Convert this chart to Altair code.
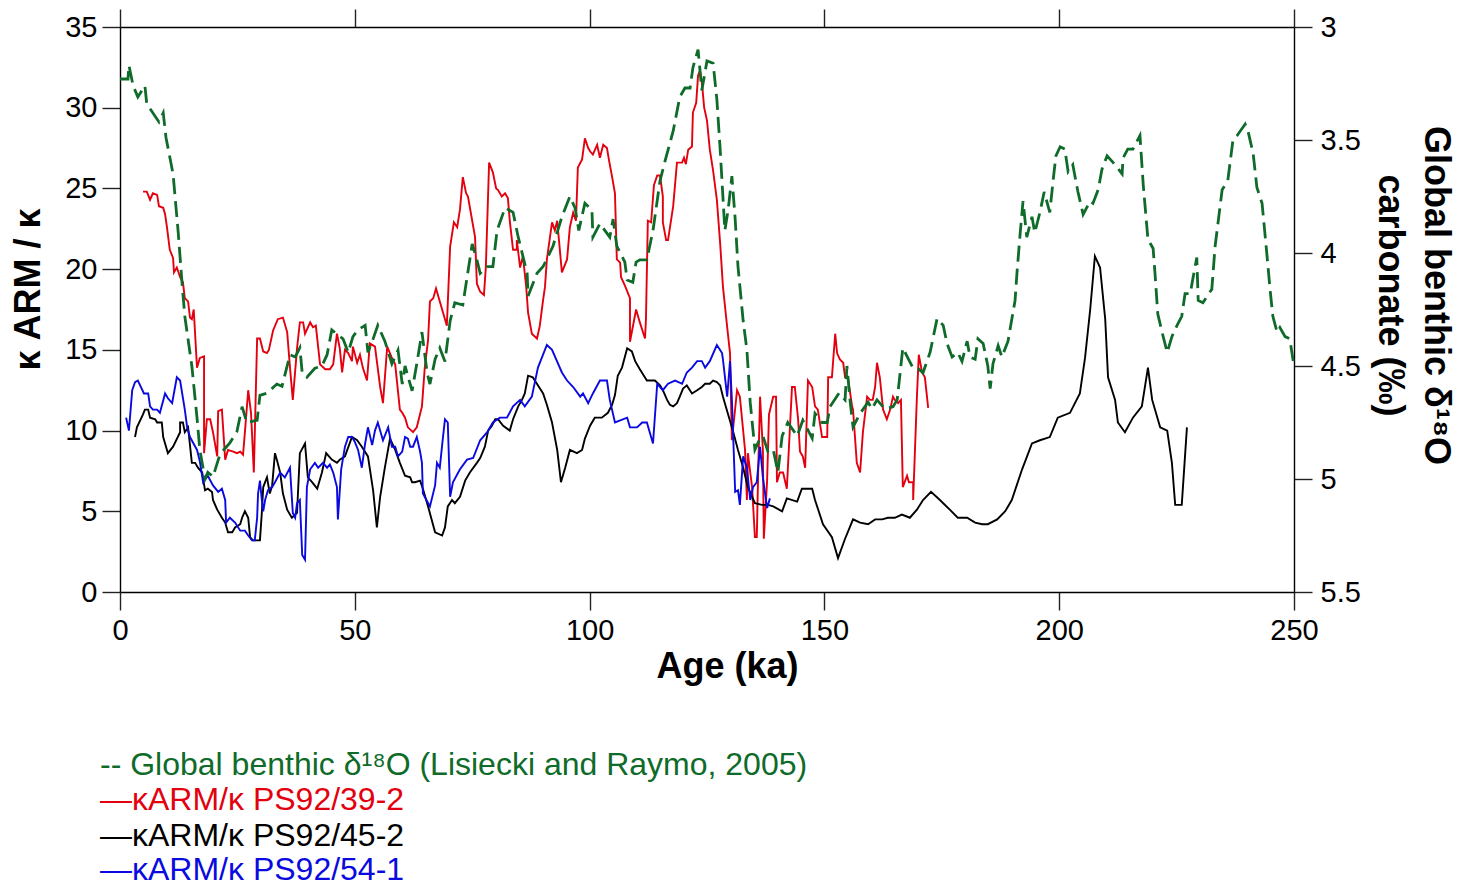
import altair as alt
import pandas as pd

FONT = "Liberation Sans, Arial, Helvetica, sans-serif"

GREEN = "#0f6b2a"
RED = "#e3000f"
BLACK = "#000000"
BLUE = "#0a0ae0"

# Global benthic d18O stack (Lisiecki and Raymo, 2005), permil, right axis
lr04_age = [0, 1.7, 1.9, 2.8, 3.8, 5.3, 5.7, 8.3, 9.2, 9.8, 11.3, 12.4, 13.2, 13.8,
            15.3, 16.4, 17.0, 18.1, 18.7, 19.8, 20.7, 21.3, 23.4, 24.9, 26.0, 27.0,
            29.2, 29.8, 31.3, 33.4, 34.5, 36.2, 37.3, 38.3, 38.8, 39.8, 41.5, 43.0,
            44.1, 45.1, 46.2, 47.5, 48.6, 49.6, 50.7, 52.2, 52.8, 53.9, 54.9, 56.4,
            57.9, 59.2, 60.1, 60.7, 62.2, 63.2, 64.3, 65.4, 66.0, 67.1, 68.1, 69.2,
            70.3, 71.3, 73.0, 75.0, 76.0, 76.7, 78.2, 79.4, 80.3, 82.0, 83.7, 84.8,
            86.7, 86.9, 88.8, 90.1, 92.2, 94.1, 95.8, 96.9, 97.7, 99.0, 100.5, 100.7,
            102.2, 104.3, 105.0, 105.8, 107.5, 108.0, 109.2, 109.9, 110.7, 112.2,
            113.5, 115.0, 116.1, 117.8, 119.2, 120.3, 121.4, 122.0, 123.1, 123.9,
            125.0, 126.3, 127.1, 127.8, 128.8, 129.5, 130.3, 131.0, 131.6, 132.7,
            133.5, 134.2, 135.2, 136.3, 136.9, 138.0, 139.1, 140.1, 141.0, 142.2,
            144.2, 145.4, 147.4, 148.0, 149.5, 150.6, 151.2, 153.1, 154.4, 154.8,
            155.5, 156.1, 157.6, 159.3, 160.1, 161.2, 162.9, 164.6, 165.5, 166.7,
            168.9, 169.9, 171.0, 172.5, 174.0, 175.3, 176.1, 177.2, 178.4, 179.3,
            180.4, 181.0, 182.1, 182.7, 183.8, 184.8, 185.3, 185.9, 187.0, 187.8,
            189.1, 190.6, 191.0, 191.7, 192.3, 193.1, 194.2, 194.8, 195.9, 196.8,
            198.0, 198.7, 199.3, 200.2, 201.2, 201.9, 202.9, 204.0, 205.1, 206.6,
            207.2, 208.3, 209.1, 210.2, 211.5, 212.3, 213.4, 213.6, 214.6, 215.7,
            217.2, 217.9, 218.9, 220.0, 220.4, 221.0, 221.9, 223.0, 224.0, 225.1,
            226.1, 226.8, 227.9, 228.5, 229.3, 229.6, 230.6, 232.5, 233.2, 234.7,
            235.9, 237.0, 237.9, 238.9, 239.6, 240.2, 241.3, 242.1, 243.2, 244.2,
            244.9, 245.5, 246.4, 247.0, 248.1, 249.1, 250.0]
lr04_d18o = [3.23, 3.23, 3.17, 3.26, 3.31, 3.26, 3.34, 3.42, 3.38, 3.49, 3.65, 3.91, 4.13, 4.28,
             4.50, 4.73, 4.87, 5.00, 4.97, 4.99, 4.93, 4.89, 4.84, 4.79, 4.68, 4.75,
             4.74, 4.63, 4.62, 4.58, 4.59, 4.45, 4.46, 4.42, 4.53, 4.55, 4.51, 4.50,
             4.45, 4.34, 4.36, 4.38, 4.44, 4.37, 4.34, 4.32, 4.44, 4.38, 4.32, 4.39,
             4.49, 4.43, 4.58, 4.50, 4.61, 4.49, 4.35, 4.53, 4.58, 4.47, 4.42, 4.48,
             4.30, 4.22, 4.23, 3.96, 4.03, 4.09, 4.06, 4.06, 3.90, 3.80, 3.82, 3.93,
             4.09, 4.19, 4.09, 4.06, 3.97, 3.84, 3.75, 3.80, 3.90, 3.78, 3.81, 3.93,
             3.87, 3.93, 3.85, 3.97, 4.04, 4.12, 4.13, 4.04, 4.03, 4.03,
             3.90, 3.68, 3.59, 3.46, 3.31, 3.27, 3.27, 3.18, 3.10, 3.28,
             3.15, 3.16, 3.32, 3.54, 3.90, 3.81, 3.66, 3.85, 4.06, 4.30,
             4.43, 4.66, 4.87, 4.82, 4.81, 4.88, 4.87, 4.97, 4.81, 4.75,
             4.81, 4.74, 4.82, 4.71, 4.75, 4.75, 4.68, 4.62, 4.65, 4.50,
             4.66, 4.77, 4.71, 4.66, 4.69, 4.65, 4.69, 4.68, 4.65, 4.42,
             4.51, 4.51, 4.53, 4.44, 4.29, 4.32, 4.40, 4.46, 4.44, 4.48,
             4.39, 4.46, 4.47, 4.38, 4.40, 4.50, 4.60, 4.49, 4.41, 4.46,
             4.39, 4.21, 4.09, 3.91, 3.77, 3.93, 3.84, 3.91, 3.82, 3.73,
             3.82, 3.68, 3.57, 3.53, 3.54, 3.64, 3.61, 3.73, 3.83, 3.77,
             3.78, 3.72, 3.63, 3.57, 3.60, 3.62, 3.65, 3.58, 3.54, 3.54,
             3.48, 3.70, 3.94, 3.98, 4.09, 4.27, 4.35, 4.44, 4.37, 4.32,
             4.28, 4.18, 4.18, 4.11, 4.02, 4.21, 4.22, 4.16, 3.97, 3.72,
             3.68, 3.50, 3.48, 3.45, 3.43, 3.46, 3.56, 3.71, 3.78, 4.00,
             4.16, 4.28, 4.35, 4.33, 4.37, 4.38, 4.50]

# kARM/k, core PS92/39-2
ps39_age = [4.9, 5.7, 6.4, 7.0, 7.9, 8.3, 9.2, 9.6, 10.0, 10.6, 11.3, 11.5, 12.1, 12.8,
            13.4, 13.8, 14.5, 14.9, 15.3, 15.7, 16.4, 17.0, 17.9, 17.9, 18.5, 19.2,
            19.8, 20.7, 20.9, 21.7, 22.4, 23.0, 24.1, 24.9, 25.6, 26.2, 26.6, 27.3,
            27.9, 28.5, 29.2, 29.8, 30.5, 31.3, 31.7, 32.6, 33.6, 34.7, 35.6, 36.2,
            36.8, 37.7, 38.3, 39.0, 39.4, 40.5, 41.1, 41.7, 42.6, 43.7, 44.7, 45.4,
            46.2, 46.8, 47.3, 47.9, 48.6, 49.4, 49.6, 50.5, 51.1, 51.7, 52.6, 53.2,
            54.3, 55.4, 56.0, 56.9, 57.9, 58.6, 59.6, 60.1, 60.7, 61.3, 62.4, 63.2,
            64.3, 64.9, 65.6, 66.0, 66.7, 67.3, 67.9, 68.8, 69.6, 70.3, 71.1, 71.8,
            72.4, 73.0, 73.7, 74.1, 75.0, 75.6, 76.0, 76.7, 77.5, 77.9, 78.6, 79.4,
            80.1, 80.5, 81.3, 82.0, 82.6, 83.0, 83.7, 84.5, 84.5, 85.2, 85.8, 86.5,
            86.9, 87.7, 88.8, 89.4, 90.1, 90.5, 90.9, 92.0, 92.6, 93.1, 94.1, 95.2,
            95.8, 96.5, 97.1, 97.5, 98.4, 99.0, 99.7, 100.1, 100.7, 101.6, 102.2,
            102.9, 103.7, 104.1, 104.8, 105.4, 105.8, 106.5, 106.7, 107.5, 108.6,
            108.6, 109.9, 110.7, 111.8, 112.0, 112.4, 113.1, 113.7, 114.4, 115.0,
            115.6, 115.6, 116.3, 116.7, 117.8, 118.6, 119.7, 120.1, 120.5, 121.0,
            121.8, 122.0, 122.7, 123.1, 123.5, 123.9, 124.4, 125.0, 125.6, 126.3,
            127.1, 127.8, 128.4, 129.3, 129.9, 130.3, 131.4, 132.0, 133.1, 133.5,
            133.7, 134.6, 135.2, 135.6, 135.9, 136.3, 136.9, 137.1, 137.8, 138.2,
            139.1, 139.7, 139.9, 140.5, 141.2, 142.0, 143.1, 143.7, 144.4, 144.8,
            145.4, 145.9, 146.5, 147.4, 148.0, 148.6, 149.5, 150.6, 150.8, 151.6,
            152.3, 152.7, 153.3, 154.0, 154.4, 155.0, 155.9, 156.1, 156.9, 157.6,
            158.2, 159.1, 159.7, 160.3, 160.8, 161.2, 161.8, 162.5, 163.3, 164.0,
            164.6, 165.0, 165.7, 166.3, 166.5, 166.7, 167.6, 168.0, 168.9, 168.9,
            169.7, 170.1, 170.8, 171.4, 172.1]
ps39_val = [24.8, 24.8, 24.3, 24.7, 24.6, 23.9, 23.8, 23.4, 22.6, 21.2, 20.7, 19.8, 20.1, 19.5,
            19.2, 18.2, 18.0, 17.0, 16.9, 17.5, 13.9, 14.5, 14.6, 8.6, 10.7, 10.7,
            9.9, 8.4, 11.2, 11.3, 8.2, 8.8, 8.7, 8.6, 8.7, 8.5, 9.9, 12.5,
            11.1, 7.4, 15.7, 15.7, 14.9, 14.8, 15.0, 16.2, 16.9, 17.0, 16.1, 13.9,
            11.9, 15.1, 16.7, 16.7, 16.0, 16.7, 16.4, 16.5, 14.1, 13.8, 13.8, 14.1,
            16.0, 15.1, 13.6, 15.0, 14.8, 14.3, 15.2, 14.2, 14.7, 13.9, 13.1, 15.4,
            15.2, 12.7, 11.7, 15.2, 14.5, 14.1, 11.3, 11.1, 10.8, 10.2, 9.9, 10.2,
            11.5, 13.9, 15.6, 18.0, 18.2, 18.8, 18.2, 17.3, 16.5, 21.4, 22.9, 22.6,
            23.7, 25.7, 24.7, 24.5, 23.0, 22.0, 19.1, 18.6, 18.4, 20.1, 26.6, 26.0,
            25.0, 24.9, 24.5, 24.7, 24.4, 23.0, 21.2, 21.2, 21.8, 20.1, 20.8, 18.9,
            17.3, 16.0, 15.7, 16.5, 18.1, 18.9, 20.6, 22.9, 22.4, 23.0, 19.8, 20.6,
            22.6, 23.5, 23.0, 26.3, 26.8, 28.1, 27.5, 27.3, 27.1, 27.7, 26.9,
            27.7, 27.5, 26.8, 25.7, 24.7, 20.6, 20.4, 19.5, 19.0, 18.2,
            15.5, 17.5, 16.7, 15.7, 16.9, 23.0, 22.9, 25.2, 25.8, 25.8,
            24.5, 22.9, 21.8, 21.8, 23.9, 26.6, 26.6, 26.9, 26.5, 27.4,
            27.6, 29.7, 30.3, 32.0, 32.3, 31.6, 30.0, 29.2, 27.4, 26.1,
            24.3, 21.6, 18.9, 16.4, 14.8, 9.4, 12.5, 12.1, 8.8, 5.7,
            8.6, 6.5, 3.4, 3.4, 7.4, 12.1, 8.8, 3.3, 6.9, 11.0,
            12.1, 12.1, 6.8, 7.4, 7.4, 6.4, 12.7, 12.7, 10.7, 8.7,
            8.4, 7.7, 13.1, 12.7, 11.5, 11.3, 9.6, 9.6, 13.3, 13.3,
            16.0, 14.8, 14.4, 14.2, 13.3, 13.3, 11.5, 11.3, 8.0, 7.4,
            9.9, 12.1, 11.9, 11.9, 12.7, 14.2, 13.3, 11.3, 10.7, 11.3,
            12.1, 11.9, 11.7, 11.9, 9.2, 6.5, 7.2, 6.8, 6.8, 5.7,
            12.1, 14.7, 13.6, 13.3, 11.4]

# kARM/k, core PS92/45-2
ps45_age = [3.2, 3.6, 4.9, 5.3, 6.0, 6.4, 7.5, 7.9, 8.9, 9.2, 10.0, 10.2, 11.3, 12.8,
            12.8, 13.4, 13.8, 14.5, 15.3, 16.0, 16.6, 17.5, 18.1, 18.7, 19.6, 19.8,
            20.7, 21.7, 22.4, 23.0, 23.9, 24.5, 25.6, 26.0, 26.6, 27.3, 27.7, 28.3,
            29.2, 29.8, 30.2, 30.5, 31.3, 31.9, 32.4, 33.0, 33.4, 34.1, 34.7, 35.6,
            36.6, 37.7, 38.3, 39.4, 40.0, 40.9, 42.0, 43.0, 43.9, 45.1, 46.2, 46.8,
            47.9, 49.4, 50.5, 51.5, 52.8, 53.9, 54.7, 55.4, 56.4, 57.5, 58.6, 59.6,
            60.7, 61.8, 62.2, 62.8, 63.9, 64.5, 65.6, 67.1, 68.6, 69.2, 69.8, 70.7,
            71.3, 72.4, 73.5, 74.5, 76.0, 76.7, 77.7, 78.4, 79.2, 79.9, 80.5, 81.6,
            83.0, 83.7, 84.8, 85.6, 86.2, 86.9, 87.9, 90.1, 90.9, 92.0, 93.1, 93.9,
            94.8, 95.8, 97.3, 98.4, 99.0, 100.1, 101.1, 102.6, 103.9, 104.8, 105.4,
            106.0, 106.9, 108.0, 109.0, 109.7, 110.7, 112.2, 113.9, 115.0, 115.6,
            116.5, 117.1, 117.8, 118.6, 119.2, 119.9, 120.7, 121.8, 122.9, 123.9,
            124.6, 125.6, 126.3, 127.1, 127.8, 128.4, 129.5, 130.5, 131.6, 132.7,
            133.7, 135.2, 136.7, 138.0, 139.1, 141.0, 142.0, 144.2, 145.2, 147.4,
            148.0, 149.7, 151.6, 152.9, 154.4, 156.1, 157.6, 159.3, 160.8, 162.3,
            163.5, 165.0, 166.5, 168.2, 169.7, 171.0, 172.7, 174.6, 176.7, 178.4,
            180.4, 182.1, 183.6, 184.8, 186.8, 188.5, 189.9, 192.1, 194.2, 195.9,
            198.0, 199.7, 202.3, 204.4, 205.5, 206.6, 207.6, 208.7, 209.8, 210.4,
            211.9, 212.5, 214.0, 215.7, 217.6, 218.9, 219.8, 221.5, 223.0, 224.0,
            224.7, 226.1, 227.2]
ps45_val = [9.6, 10.2, 11.0, 11.3, 11.3, 10.8, 10.7, 10.5, 10.5, 9.6, 8.8, 8.6, 9.0, 9.9,
            10.5, 10.5, 9.9, 10.2, 8.0, 8.0, 7.7, 7.4, 6.3, 6.4, 6.2, 5.7,
            5.1, 4.6, 4.3, 3.7, 3.7, 4.0, 4.2, 4.6, 5.0, 4.6, 3.4, 3.2,
            3.2, 3.2, 4.9, 6.5, 7.1, 6.1, 6.6, 8.6, 8.2, 7.4, 6.1, 5.1,
            4.6, 4.9, 8.6, 9.2, 7.1, 6.8, 6.4, 7.4, 8.6, 8.2, 8.0, 8.2,
            8.4, 9.6, 9.4, 9.0, 8.4, 6.3, 4.0, 5.9, 7.7, 9.5, 8.8, 8.0,
            7.2, 7.1, 6.8, 6.8, 6.9, 6.4, 5.3, 3.7, 3.5, 4.0, 5.3, 5.7,
            5.5, 5.9, 6.9, 7.4, 8.0, 8.3, 9.0, 10.0, 10.3, 10.7, 10.7, 10.3,
            10.0, 10.7, 11.5, 11.9, 12.3, 13.4, 13.3, 12.3, 11.6, 10.5, 8.8, 6.8,
            7.7, 8.8, 8.6, 8.8, 9.5, 10.3, 10.8, 10.8, 11.1, 11.6, 12.2,
            13.4, 13.9, 15.1, 14.9, 14.3, 13.8, 13.1, 13.1, 12.8, 12.5,
            11.9, 11.6, 11.5, 11.7, 12.1, 12.6, 12.8, 12.3, 12.5, 12.7,
            12.9, 12.9, 13.1, 13.0, 12.8, 12.1, 11.0, 10.0, 8.8, 7.7,
            6.5, 5.5, 5.4, 5.4, 5.3, 5.0, 5.8, 5.6, 6.4, 6.4,
            5.7, 4.2, 3.4, 2.1, 3.3, 4.5, 4.3, 4.2, 4.5, 4.5,
            4.6, 4.6, 4.8, 4.6, 5.1, 5.7, 6.2, 5.7, 5.1, 4.6,
            4.6, 4.3, 4.2, 4.2, 4.5, 5.0, 5.7, 7.6, 9.2, 9.4,
            9.6, 10.8, 11.1, 12.3, 14.5, 17.5, 20.8, 20.1, 16.9, 13.3,
            11.9, 10.5, 9.9, 10.8, 11.5, 13.9, 11.9, 10.2, 10.0, 8.0,
            5.4, 5.4, 10.2]

# kARM/k, core PS92/54-1
ps54_age = [1.3, 1.9, 2.6, 3.2, 3.8, 5.1, 6.0, 6.4, 7.0, 7.9, 8.5, 9.6, 10.2, 11.1,
            12.1, 12.8, 13.8, 14.3, 14.9, 16.4, 17.0, 17.7, 18.7, 19.8, 20.9, 21.7,
            22.4, 22.6, 23.4, 24.5, 25.6, 26.6, 27.3, 28.1, 28.7, 29.2, 29.4, 29.8,
            30.2, 30.5, 30.9, 31.5, 32.4, 33.0, 34.1, 35.1, 36.2, 36.8, 37.3, 37.7,
            38.3, 38.8, 39.4, 39.8, 40.5, 41.5, 42.2, 43.2, 44.1, 44.7, 45.4, 46.2,
            46.4, 47.1, 47.9, 48.6, 49.4, 50.0, 50.7, 51.5, 52.2, 52.8, 53.7, 54.3,
            54.9, 56.0, 57.1, 57.9, 58.6, 59.2, 60.1, 60.7, 61.3, 61.8, 62.4, 63.2,
            63.9, 64.3, 64.5, 66.0, 67.1, 67.5, 68.1, 68.6, 69.2, 69.8, 70.3, 70.9,
            72.4, 73.9, 75.2, 76.7, 78.2, 79.4, 80.9, 82.4, 83.7, 85.2, 86.2, 87.7,
            89.0, 90.9, 92.0, 94.1, 95.2, 96.5, 98.0, 98.6, 99.7, 100.7, 102.2,
            103.7, 104.3, 105.4, 108.0, 108.6, 110.1, 111.2, 112.2, 113.5, 114.4,
            115.6, 116.7, 118.2, 119.7, 120.7, 121.8, 122.9, 123.9, 124.6, 125.6,
            127.1, 128.2, 128.4, 129.3, 129.9, 130.3, 131.0, 131.6, 132.0, 132.7,
            133.5, 134.2, 134.8, 135.6, 136.3, 136.9, 137.8, 138.4]
ps54_val = [10.8, 10.0, 12.5, 13.0, 13.1, 12.3, 12.3, 11.5, 11.3, 11.3, 11.1, 12.3, 12.0, 11.7,
            13.3, 13.1, 11.3, 10.2, 9.6, 8.8, 8.1, 6.8, 7.2, 6.6, 6.2, 6.4,
            5.7, 4.3, 4.6, 4.3, 3.8, 3.8, 3.5, 3.2, 3.2, 4.6, 6.1, 6.9,
            5.7, 5.0, 5.7, 6.3, 6.5, 6.8, 7.4, 7.1, 7.7, 4.9, 4.6, 5.5,
            5.7, 2.3, 2.0, 6.5, 7.6, 8.0, 7.7, 8.0, 7.7, 7.9, 7.4, 6.5,
            4.5, 7.6, 9.0, 9.6, 9.6, 9.3, 8.8, 7.7, 9.2, 10.2, 9.1, 10.0,
            10.5, 9.4, 10.2, 9.0, 9.0, 8.4, 8.7, 9.6, 9.5, 9.0, 9.0, 9.6,
            8.7, 8.0, 6.1, 5.3, 6.6, 8.0, 7.7, 9.1, 10.7, 10.5, 5.9, 6.8,
            7.6, 8.2, 8.3, 9.4, 9.9, 10.5, 10.8, 10.8, 11.5, 11.9, 11.5, 12.1,
            13.9, 15.3, 15.0, 13.6, 13.1, 12.7, 12.1, 12.3, 11.7, 12.3, 13.1,
            13.1, 11.9, 10.5, 10.8, 10.2, 10.2, 10.5, 10.5, 9.2, 12.9,
            12.5, 12.9, 13.1, 12.9, 13.6, 13.9, 14.3, 14.3, 13.9, 14.3,
            15.3, 14.8, 14.4, 12.1, 14.3, 11.9, 6.2, 6.3, 5.4, 8.4,
            7.7, 5.7, 6.5, 6.8, 9.0, 7.1, 5.2, 5.8]

CORES = ["κARM/κ PS92/39-2", "κARM/κ PS92/45-2", "κARM/κ PS92/54-1"]
CORE_COLORS = [RED, BLACK, BLUE]

frames = []
for name, ages, vals in zip(CORES, [ps39_age, ps45_age, ps54_age],
                            [ps39_val, ps45_val, ps54_val]):
    frames.append(pd.DataFrame({"core": name, "age": ages, "ratio": vals,
                                "seq": range(len(ages))}))
cores = pd.concat(frames, ignore_index=True)
lr04 = pd.DataFrame({"age": lr04_age, "d18o": lr04_d18o, "seq": range(len(lr04_age))})

x_scale = alt.Scale(domain=[0, 250], nice=False, zero=False)
x_ticks = [0, 50, 100, 150, 200, 250]

axis_common = dict(
    domainColor="black", domainWidth=1.4, tickColor="#222", tickWidth=1.4,
    tickSize=18, grid=False, labelColor="black", labelFont=FONT, labelFontSize=29,
    labelFlush=False, labelOverlap=False,
    titleFont=FONT, titleFontSize=36, titleFontWeight="bold", titleColor="black",
)

kappa = alt.Chart(cores).mark_line(strokeWidth=1.9).encode(
    x=alt.X("age:Q", scale=x_scale,
            axis=alt.Axis(orient="bottom", values=x_ticks, title="Age (ka)",
                          labelPadding=6, titleX=607, titleY=74,
                          titleAlign="center", titleBaseline="middle", **axis_common)),
    y=alt.Y("ratio:Q", scale=alt.Scale(domain=[0, 35], nice=False, zero=False),
            axis=alt.Axis(orient="left", values=list(range(0, 36, 5)), title="κ ARM / κ",
                          labelPadding=5, titleAngle=270, titleX=-92, titleY=262,
                          titleAlign="center", titleBaseline="middle", **axis_common)),
    color=alt.Color("core:N", scale=alt.Scale(domain=CORES, range=CORE_COLORS), legend=None),
    order=alt.Order("seq:Q"),
)

benthic = alt.Chart(lr04).mark_line(color=GREEN, strokeWidth=2.8, strokeDash=[16, 7]).encode(
    x=alt.X("age:Q", scale=x_scale,
            axis=alt.Axis(orient="top", values=x_ticks, labels=False, title=None, **axis_common)),
    y=alt.Y("d18o:Q", scale=alt.Scale(domain=[3, 5.5], reverse=True, nice=False, zero=False),
            axis=alt.Axis(orient="right", values=[3, 3.5, 4, 4.5, 5, 5.5], format="~g",
                          title=["Global benthic δ¹⁸O", "carbonate (‰)"],
                          labelPadding=8, titleAngle=90, titleX=141, titleY=268,
                          titleAlign="center", titleBaseline="middle", titleLineHeight=46,
                          **axis_common)),
    order=alt.Order("seq:Q"),
)

# Text legend below the plot
legend_rows = [
    ("-- Global benthic δ¹⁸O (Lisiecki and Raymo, 2005)", GREEN, 738),
    ("—κARM/κ PS92/39-2", RED, 773),
    ("—κARM/κ PS92/45-2", BLACK, 809),
    ("—κARM/κ PS92/54-1", BLUE, 843),
]
legend_layers = [
    alt.Chart(pd.DataFrame({"t": [label]})).mark_text(
        align="left", baseline="middle", font=FONT, fontSize=32, color=col
    ).encode(text="t:N", x=alt.value(-20), y=alt.value(ypos))
    for label, col, ypos in legend_rows
]

chart = alt.layer(kappa, benthic, *legend_layers).resolve_scale(
    y="independent"
).resolve_axis(x="independent").properties(
    width=1174, height=565,
    padding={"left": 120, "top": 27, "right": 180, "bottom": 299},
    autosize=alt.AutoSizeParams(type="none"),
    background="white",
).configure_view(stroke=None)

chart.save("out.html", embed_options={"renderer": "svg", "actions": False})
